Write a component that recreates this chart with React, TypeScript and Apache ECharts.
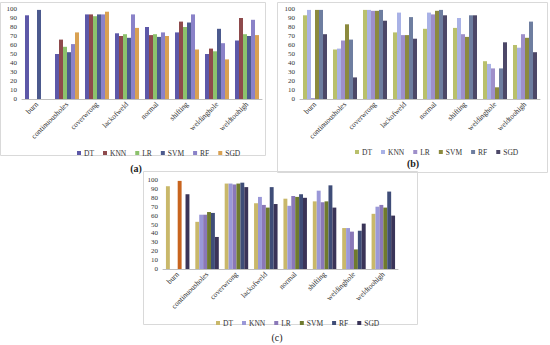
import React, { useEffect, useRef } from "react";
import * as echarts from "echarts";

const categories = ["burn", "continuousholes", "coverwrong", "lackofweld", "normal", "shifting", "weldinghole", "weldtoohigh"];
const models = ["DT", "KNN", "LR", "SVM", "RF", "SGD"];

// chart (a)
const aDT = [93, 50, 94, 73, 80, 74, 50, 65];
const aKNN = [0, 66, 94, 70, 71, 86, 56, 90];
const aLR = [0, 58, 92, 72, 72, 80, 53, 72];
const aSVM = [99, 52, 94, 68, 69, 85, 78, 70];
const aRF = [0, 61, 94, 94, 74, 94, 62, 88];
const aSGD = [0, 74, 97, 79, 70, 55, 44, 71];

// chart (b)
const bDT = [93, 55, 99, 74, 78, 79, 42, 60];
const bKNN = [99, 56, 99, 96, 96, 90, 39, 57];
const bLR = [1, 65, 98, 71, 94, 72, 34, 72];
const bSVM = [99, 83, 98, 71, 98, 69, 13, 68];
const bRF = [99, 66, 99, 91, 99, 93, 34, 86];
const bSGD = [72, 24, 87, 67, 93, 93, 63, 52];

// chart (c)
const cDT = [93, 53, 96, 74, 79, 76, 46, 62];
const cKNN = [0, 61, 96, 81, 71, 88, 46, 70];
const cLR = [0, 61, 95, 72, 82, 75, 42, 72];
const cSVM = [99, 64, 96, 69, 81, 76, 22, 69];
const cRF = [0, 63, 97, 92, 84, 94, 43, 87];
const cSGD = [84, 36, 92, 73, 80, 69, 51, 60];

const colorsA = ["#5d58a8", "#8e4a4c", "#8cc26c", "#4c5a8e", "#8a82c8", "#d9a152"];
const colorsB = ["#b9c06c", "#a9b2e6", "#9e8fca", "#8c8a3e", "#6e7ea0", "#4d4868"];
const colorsC = ["#c9b86a", "#9a98d8", "#8a78b8", "#6f7a2e", "#3f4d78", "#3a3458"];

const FONT = "Liberation Serif";

export default function App() {
  const ref = useRef<HTMLDivElement>(null);
  useEffect(() => {
    const chart = echarts.init(ref.current!, null, { renderer: "svg" });
    const grids = [
      { left: 22, width: 240, top: 9, height: 90 },
      { left: 300, width: 240, top: 9, height: 90 },
      { left: 163, width: 235, top: 180, height: 89 },
    ];
    const sets = [
      { data: [aDT, aKNN, aLR, aSVM, aRF, aSGD], colors: colorsA, suf: "_a" },
      { data: [bDT, bKNN, bLR, bSVM, bRF, bSGD], colors: colorsB, suf: "_b" },
      { data: [cDT, cKNN, cLR, cSVM, cRF, cSGD], colors: colorsC, suf: "_c" },
    ];
    const xAxis = grids.map((_, i) => ({
      type: "category",
      gridIndex: i,
      data: categories,
      axisLine: { lineStyle: { color: "#bfbfbf" } },
      axisTick: { show: false },
      axisLabel: { interval: 0, rotate: 45, fontSize: 7.5, fontFamily: FONT, color: "#333", margin: 4 },
    }));
    const yAxis = grids.map((_, i) => ({
      type: "value",
      gridIndex: i,
      min: 0,
      max: 100,
      interval: 10,
      axisLine: { show: false },
      axisTick: { show: false },
      splitLine: { show: false },
      axisLabel: { fontSize: 7, fontFamily: FONT, color: "#333", margin: 5 },
    }));
    const series: any[] = [];
    sets.forEach((s, gi) => {
      s.data.forEach((vals, mi) => {
        series.push({
          type: "bar",
          name: models[mi] + s.suf,
          xAxisIndex: gi,
          yAxisIndex: gi,
          barGap: "0%",
          barCategoryGap: "20%",
          itemStyle: { color: s.colors[mi] },
          data: vals.map((v, ci) =>
            gi === 2 && mi === 3 && ci === 0 ? { value: v, itemStyle: { color: "#c8641e" } } : v
          ),
        });
      });
    });
    const legendBase = {
      itemWidth: 4,
      itemHeight: 4,
      itemGap: 9,
      icon: "rect",
      formatter: (n: string) => n.split("_")[0],
      textStyle: { fontSize: 7.5, fontFamily: FONT, color: "#333", padding: [0, 0, 0, -2] },
    };
    const legend = [
      { ...legendBase, left: 72, top: 144, data: models.map((m) => m + "_a") },
      { ...legendBase, left: 350, top: 143, data: models.map((m) => m + "_b") },
      { ...legendBase, left: 211, top: 314, data: models.map((m) => m + "_c") },
    ];
    chart.setOption({
      animation: false,
      grid: grids,
      xAxis,
      yAxis,
      legend,
      series,
      graphic: [
        { type: "rect", shape: { x: 0.5, y: 2.5, width: 265, height: 153 }, style: { fill: "none", stroke: "#d9d9d9", lineWidth: 1 }, silent: true },
        { type: "rect", shape: { x: 277.5, y: 2.5, width: 270, height: 170 }, style: { fill: "none", stroke: "#d9d9d9", lineWidth: 1 }, silent: true },
        { type: "rect", shape: { x: 143.5, y: 171.5, width: 274, height: 153 }, style: { fill: "none", stroke: "#d9d9d9", lineWidth: 1 }, silent: true },
        { type: "text", x: 136, y: 168, style: { text: "(a)", fontSize: 10, fontWeight: "bold", fontFamily: FONT, fill: "#222", align: "center", verticalAlign: "middle" } },
        { type: "text", x: 413, y: 163, style: { text: "(b)", fontSize: 10, fontWeight: "bold", fontFamily: FONT, fill: "#222", align: "center", verticalAlign: "middle" } },
        { type: "text", x: 277, y: 337, style: { text: "(c)", fontSize: 10, fontFamily: FONT, fill: "#222", align: "center", verticalAlign: "middle" } },
      ],
    });
    return () => chart.dispose();
  }, []);
  return (
    <div
      ref={ref}
      style={{ position: "fixed", left: 0, top: 0, width: 550, height: 345, background: "#fff" }}
    />
  );
}
